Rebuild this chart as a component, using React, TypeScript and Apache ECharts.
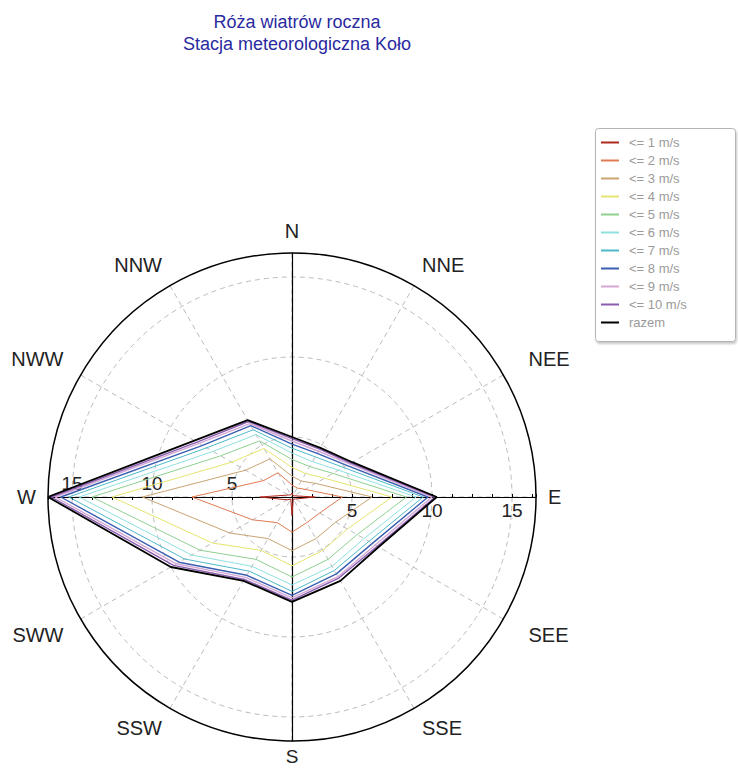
import React, { useEffect, useRef } from "react";
import * as echarts from "echarts";

const DIRS = ["N", "NNE", "NEE", "E", "SEE", "SSE", "S", "SSW", "SWW", "W", "NWW", "NNW"];
const DIR_ANGLES = [0, 30, 60, 90, 120, 150, 180, 210, 240, 270, 300, 330];

const SERIES_NAMES = [
  "<= 1 m/s", "<= 2 m/s", "<= 3 m/s", "<= 4 m/s", "<= 5 m/s",
  "<= 6 m/s", "<= 7 m/s", "<= 8 m/s", "<= 9 m/s", "<= 10 m/s", "razem",
];

const SERIES_COLORS = [
  "#b0281c", "#e07a52", "#c9a472", "#e6e470", "#8fd08f",
  "#8fe0df", "#4cb8c8", "#3a5fb0", "#d4a8d4", "#8a5cb0", "#000000",
];

// cumulative values per direction (order of DIRS)
const v1 = [1.5, 1.35, 1.4, 2.7, 1.5, 1.4, 2.4, 1.4, 1.6, 3.25, 1.5, 1.4];
const v2 = [2.0, 1.9, 2.2, 4.4, 3.25, 3.1, 3.45, 3.1, 4.1, 7.5, 3.3, 3.0];
const v3 = [2.55, 2.4, 2.95, 6.25, 4.4, 4.25, 4.6, 4.25, 5.75, 10.6, 4.6, 4.0];
const v4 = [3.1, 2.95, 3.6, 7.5, 5.25, 5.1, 5.55, 5.1, 7.0, 12.5, 5.6, 4.75];
const v5 = [3.6, 3.45, 4.2, 8.4, 5.95, 5.75, 6.25, 5.75, 7.9, 13.75, 6.4, 5.3];
const v6 = [4.0, 3.8, 4.6, 9.0, 6.45, 6.25, 6.75, 6.25, 8.5, 14.55, 6.95, 5.75];
const v7 = [4.3, 4.15, 4.95, 9.45, 6.8, 6.55, 7.15, 6.6, 9.0, 15.2, 7.4, 6.1];
const v8 = [4.55, 4.4, 5.2, 9.75, 7.05, 6.8, 7.4, 6.9, 9.4, 15.7, 7.7, 6.4];
const v9 = [4.75, 4.55, 5.4, 10.0, 7.25, 7.0, 7.55, 7.05, 9.6, 16.05, 7.95, 6.55];
const v10 = [4.9, 4.7, 5.5, 10.2, 7.4, 7.1, 7.7, 7.2, 9.8, 16.3, 8.1, 6.7];
const razem = [5.0, 4.8, 5.6, 10.3, 7.5, 7.3, 7.8, 7.3, 10.0, 16.5, 8.3, 6.8];

const SERIES_VALUES = [v1, v2, v3, v4, v5, v6, v7, v8, v9, v10, razem];

const R_MIN = 1.25;
const R_MAX = 16.5;
const R_STEP = 1.25;
const R_LABELS = [5, 10, 15];

const TITLE = "Róża wiatrów roczna";
const SUBTITLE = "Stacja meteorologiczna Koło";

const FONT = "'Liberation Sans', Arial, sans-serif";

// extra spacing of each direction label (rich style padding: top, right, bottom, left)
const DIR_PADDING: Record<string, number[]> = {
  N: [0, 0, 6, 0],
  NNE: [0, 0, 5, 5],
  NEE: [0, 0, 3, 20],
  E: [0, 0, 0, 6],
  SEE: [3, 0, 0, 20],
  SSE: [4, 0, 0, 5],
  S: [0, 0, 0, 0],
  SSW: [4, 5, 0, 0],
  SWW: [3, 12, 0, 0],
  W: [0, 6, 0, 0],
  NWW: [0, 12, 3, 0],
  NNW: [0, 5, 5, 0],
};

export default function App() {
  const ref = useRef<HTMLDivElement>(null);

  useEffect(() => {
    if (!ref.current) return;
    const chart = echarts.init(ref.current, undefined, { renderer: "svg" });
    const center = [292, 497];
    const radius = 244;

    const labelFmt = (v: number) =>
      R_LABELS.some((l) => Math.abs(l - v) < 0.01) ? String(Math.round(v)) : "";

    const hiddenAngle = (idx: number, start: number) => ({
      polarIndex: idx,
      type: "value",
      startAngle: start,
      min: 0,
      max: 360,
      axisLine: { show: false },
      axisTick: { show: false },
      axisLabel: { show: false },
      splitLine: { show: false },
    });

    const tickRadius = (idx: number, showLabels: boolean) => ({
      polarIndex: idx,
      type: "value",
      min: R_MIN,
      max: R_MAX,
      interval: R_STEP,
      axisLine: { show: true, lineStyle: { color: "#000", width: 1.2 } },
      axisTick: { show: showLabels, length: 3, lineStyle: { color: "#000" } },
      axisLabel: {
        show: showLabels,
        formatter: labelFmt,
        fontSize: 19,
        color: "#222",
        fontFamily: FONT,
        margin: -23,
      },
      splitLine: { show: false },
    });

    const series = SERIES_NAMES.map((name, si) => {
      const vals = SERIES_VALUES[si];
      const data = DIR_ANGLES.map((a, i) => [vals[i], a]);
      data.push([vals[0], 360]);
      return {
        name,
        type: "line",
        coordinateSystem: "polar",
        polarIndex: 0,
        symbol: "none",
        clip: false,
        data,
        lineStyle: {
          color: SERIES_COLORS[si],
          width: si === 10 ? 1.8 : si >= 7 ? 1.4 : 1,
        },
        itemStyle: { color: SERIES_COLORS[si] },
        z: 3 + si,
      };
    });

    const rich: Record<string, any> = {};
    DIRS.forEach((d) => {
      rich[d] = {
        fontSize: d === "S" ? 19 : 20,
        color: "#222",
        fontFamily: FONT,
        padding: DIR_PADDING[d],
      };
    });

    chart.setOption({
      animation: false,
      backgroundColor: "#fff",
      title: {
        text: TITLE,
        subtext: SUBTITLE,
        left: 292,
        top: 8,
        textAlign: "center",
        itemGap: 4,
        textStyle: { color: "#2a2aa0", fontSize: 18, fontWeight: "normal", fontFamily: FONT },
        subtextStyle: { color: "#2a2aa0", fontSize: 18, fontFamily: FONT },
      },
      graphic: [
        {
          type: "rect",
          left: 595,
          top: 128,
          z: 1,
          shape: { width: 140, height: 213, r: 3 },
          style: {
            fill: "#fff",
            stroke: "#b4b4b4",
            lineWidth: 1,
            shadowColor: "rgba(0,0,0,0.22)",
            shadowBlur: 2,
            shadowOffsetX: 1,
            shadowOffsetY: 2,
          },
        },
      ],
      legend: {
        orient: "vertical",
        left: 595,
        top: 128,
        z: 5,
        padding: [8, 6, 8, 6],
        itemGap: 5,
        itemWidth: 18,
        itemHeight: 2,
        icon: "rect",
        textStyle: { color: "#9a9a9a", fontSize: 13, fontFamily: FONT, padding: [0, 0, 0, 5] },
        data: SERIES_NAMES,
      },
      polar: [
        { center, radius },
        { center, radius },
        { center, radius },
        { center, radius },
      ],
      angleAxis: [
        {
          polarIndex: 0,
          type: "value",
          min: 0,
          max: 360,
          interval: 30,
          startAngle: 90,
          clockwise: true,
          axisLine: { show: true, lineStyle: { color: "#000", width: 1.5 } },
          axisTick: { show: false },
          axisLabel: {
            color: "#222",
            fontSize: 20,
            fontFamily: FONT,
            margin: 6,
            formatter: (v: number) => {
              const i = DIR_ANGLES.indexOf(Math.round(v));
              if (i < 0) return "";
              const d = DIRS[i];
              return "{" + d + "|" + d + "}";
            },
            rich,
          },
          splitLine: { show: true, lineStyle: { color: "#bcbcbc", type: [5, 4], width: 1 } },
        },
        hiddenAngle(1, 0),
        hiddenAngle(2, 180),
        hiddenAngle(3, 270),
      ],
      radiusAxis: [
        {
          polarIndex: 0,
          type: "value",
          min: R_MIN,
          max: R_MAX,
          axisLine: { show: true, lineStyle: { color: "#000", width: 1.2 } },
          axisTick: { show: false, customValues: R_LABELS },
          axisLabel: { show: false },
          splitLine: { show: true, lineStyle: { color: "#bcbcbc", type: [5, 4], width: 1 } },
        },
        tickRadius(1, true),
        tickRadius(2, true),
        tickRadius(3, false),
      ],
      series,
    });

    return () => chart.dispose();
  }, []);

  return (
    <div
      ref={ref}
      style={{ position: "fixed", left: 0, top: 0, width: 738, height: 769, background: "#fff" }}
    />
  );
}
